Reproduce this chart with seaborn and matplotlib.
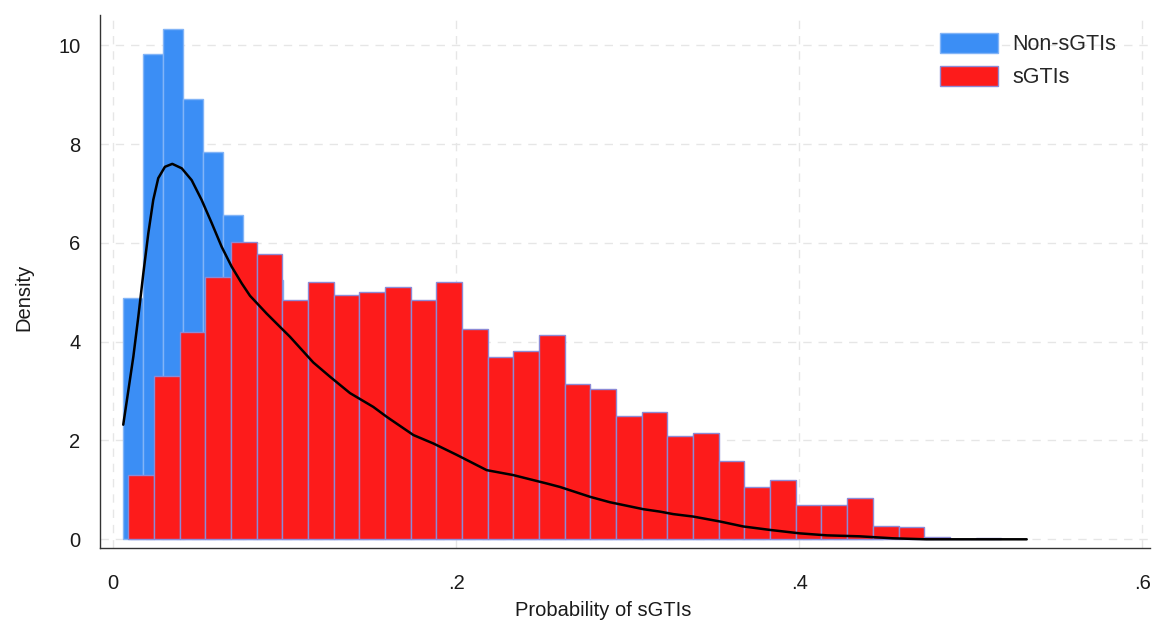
import numpy as np
import pandas as pd
import matplotlib
matplotlib.use("Agg")
import matplotlib.pyplot as plt
import seaborn as sns
from matplotlib.patches import Patch

# ---- data ----
# Non-sGTIs histogram (bin start / width, densities)
blue_start, blue_width = 0.00583, 0.01166
blue_density = [4.89, 9.82, 10.34, 8.91, 7.83, 6.56, 5.60, 5.25, 4.50, 4.20,
                3.90, 3.50, 3.30, 2.90, 2.60, 2.40, 2.10, 1.90, 1.60, 1.45,
                1.30, 1.10, 0.95, 0.85, 0.70, 0.60, 0.50, 0.42, 0.35, 0.30,
                0.22, 0.18, 0.14, 0.10, 0.08, 0.06, 0.04, 0.02]
# sGTIs histogram
red_start, red_width = 0.00875, 0.01497
red_density = [1.30, 3.31, 4.20, 5.30, 6.02, 5.77, 4.84, 5.21, 4.95, 5.00,
               5.11, 4.84, 5.21, 4.25, 3.70, 3.82, 4.14, 3.14, 3.04, 2.50,
               2.58, 2.10, 2.16, 1.59, 1.05, 1.21, 0.69, 0.69, 0.84, 0.27,
               0.24, 0.05, 0.00, 0.02]
# density curve
kde_x = [0.0058, 0.0088, 0.0117, 0.0146, 0.0175, 0.0204, 0.0233, 0.0262, 0.0301,
         0.0344, 0.0399, 0.0457, 0.0515, 0.0574, 0.0632, 0.0690, 0.0749, 0.0797,
         0.0894, 0.0972, 0.1030, 0.1166, 0.1264, 0.1380, 0.1516, 0.1594, 0.1750,
         0.1866, 0.2002, 0.2177, 0.2332, 0.2527, 0.2604, 0.2780, 0.2896, 0.3090,
         0.3188, 0.3265, 0.3382, 0.3538, 0.3673, 0.3829, 0.4004, 0.4160, 0.4354,
         0.4546, 0.4740, 0.5000, 0.5326]
kde_y = [2.32, 3.02, 3.70, 4.51, 5.38, 6.19, 6.87, 7.31, 7.54,
         7.60, 7.51, 7.27, 6.87, 6.40, 5.92, 5.52, 5.18, 4.93,
         4.57, 4.30, 4.10, 3.58, 3.29, 2.96, 2.68, 2.48, 2.11,
         1.94, 1.71, 1.40, 1.30, 1.13, 1.06, 0.86, 0.75, 0.61,
         0.56, 0.51, 0.46, 0.36, 0.26, 0.19, 0.12, 0.08, 0.06,
         0.02, 0.00, 0.00, 0.00]
legend_labels = ["Non-sGTIs", "sGTIs"]
x_ticks = [0, 0.2, 0.4, 0.6]
x_ticklabels = ["0", ".2", ".4", ".6"]
y_ticks = [0, 2, 4, 6, 8, 10]

# ---- style ----
sns.set_theme(style="white")
plt.rcParams["font.family"] = ["Liberation Sans", "DejaVu Sans"]

BLUE = "#3b8ef5"
BLUE_EDGE = "#82b4f7"
RED = "#fd1b1b"
RED_EDGE = "#8c8ad6"

fig = plt.figure(figsize=(11.53, 6.22), dpi=100)
ax = fig.add_axes([100 / 1153, 1 - 548 / 622, 1050 / 1153, (548 - 15) / 622])

blue_edges = [float(v) for v in blue_start + blue_width * np.arange(len(blue_density) + 1)]
red_edges = [float(v) for v in red_start + red_width * np.arange(len(red_density) + 1)]
blue_df = pd.DataFrame({"x": [(a + b) / 2 for a, b in zip(blue_edges[:-1], blue_edges[1:])],
                        "w": blue_density})
red_df = pd.DataFrame({"x": [(a + b) / 2 for a, b in zip(red_edges[:-1], red_edges[1:])],
                       "w": red_density})

sns.histplot(data=blue_df, x="x", weights="w", bins=blue_edges, stat="count",
             color=BLUE, alpha=1, edgecolor=BLUE_EDGE, linewidth=1.0, ax=ax, zorder=2)
sns.histplot(data=red_df, x="x", weights="w", bins=red_edges, stat="count",
             color=RED, alpha=1, edgecolor=RED_EDGE, linewidth=1.0, ax=ax, zorder=3)
sns.lineplot(x=kde_x, y=kde_y, color="black", linewidth=1.8, ax=ax, zorder=4)

ax.set_xlim((100 - 113.3) / 1715, (1150 - 113.3) / 1715)
ax.set_ylim((539.3 - 548) / 49.4, (539.3 - 15) / 49.4)

ax.set_xticks(x_ticks)
ax.set_xticklabels(x_ticklabels)
ax.set_yticks(y_ticks)
ax.set_yticklabels([str(v) for v in y_ticks])
ax.tick_params(axis="both", direction="out", length=6, width=1, color="#333333",
               labelsize=14.5, labelcolor="#1a1a1a", pad=8)
ax.tick_params(axis="x", pad=13)

ax.grid(True, linestyle=(0, (6, 5)), color="#e6e6e6", linewidth=1.0, zorder=0)
ax.set_axisbelow(True)
for s in ["top", "right"]:
    ax.spines[s].set_visible(False)
for s in ["left", "bottom"]:
    ax.spines[s].set_color("#333333")
    ax.spines[s].set_linewidth(1.0)

ax.set_xlabel("Probability of sGTIs", fontsize=14.5, color="#1a1a1a")
ax.set_ylabel("Density", fontsize=14.5, color="#1a1a1a")
ax.xaxis.set_label_coords((603 - 100) / 1050, (548 - 601) / 533)
ax.yaxis.set_label_coords((33 - 100) / 1050, (548 - 297) / 533)

handles = [Patch(facecolor=BLUE, edgecolor=BLUE_EDGE, label=legend_labels[0]),
           Patch(facecolor=RED, edgecolor=RED_EDGE, label=legend_labels[1])]
ax.legend(handles=handles, loc="upper left",
          bbox_to_anchor=(940 / 1153, 1 - 33 / 622), bbox_transform=fig.transFigure,
          frameon=False, fontsize=15.5, handlelength=2.7, handleheight=1.05,
          handletextpad=0.65, labelspacing=0.5, borderpad=0, borderaxespad=0)

fig.savefig("out.png", dpi=100)
